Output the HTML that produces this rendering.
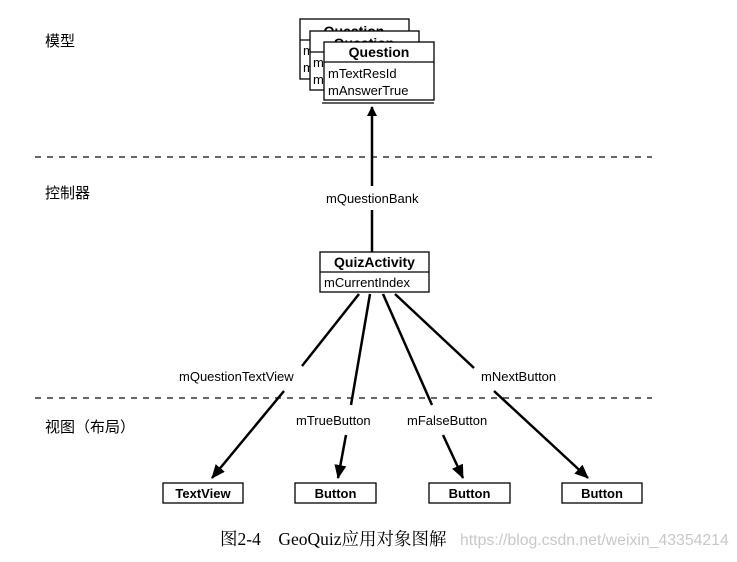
<!DOCTYPE html>
<html><head><meta charset="utf-8"><style>
body{margin:0;background:#fff;}
svg text{font-family:"Liberation Sans","Noto Sans CJK SC",sans-serif;}
</style></head><body>
<svg width="737" height="557" xmlns="http://www.w3.org/2000/svg">
<defs><marker id="a" markerWidth="10" markerHeight="10" refX="9" refY="5" orient="auto" markerUnits="userSpaceOnUse"><path d="M0,0 L10,5 L0,10 z" fill="#000"/></marker>
<marker id="b" markerWidth="14" markerHeight="14" refX="13" refY="7" orient="auto" markerUnits="userSpaceOnUse"><path d="M0,1 L14,7 L0,13 z" fill="#000"/></marker></defs>
<g font-size="15" fill="#000">
<text x="45" y="46">模型</text>
<text x="45" y="198">控制器</text>
<text x="45" y="432">视图（布局）</text>
</g>
<g stroke="#666" stroke-width="2" stroke-dasharray="6,6">
<line x1="35" y1="157" x2="652" y2="157"/>
<line x1="35" y1="398" x2="652" y2="398"/>
</g>
<g stroke="#000" stroke-width="1.3" fill="#fff">
<rect x="300" y="19" width="109" height="60"/>
<line x1="300" y1="40" x2="409" y2="40"/>
</g>
<text x="354" y="36" font-size="14" font-weight="bold" text-anchor="middle">Question</text>
<text x="303" y="55" font-size="13">m</text><text x="303" y="72" font-size="13">m</text>
<g stroke="#000" stroke-width="1.3" fill="#fff">
<rect x="310" y="31" width="109" height="59"/>
<line x1="310" y1="52" x2="419" y2="52"/>
</g>
<text x="364" y="48" font-size="14" font-weight="bold" text-anchor="middle">Question</text>
<text x="313" y="67" font-size="13">m</text><text x="313" y="84" font-size="13">m</text>
<g stroke="#000" stroke-width="1.3" fill="#fff">
<rect x="324" y="42" width="110" height="58"/>
<line x1="324" y1="62" x2="434" y2="62"/>
<line x1="322" y1="103" x2="434" y2="103"/>
</g>
<text x="379" y="57" font-size="14" font-weight="bold" text-anchor="middle">Question</text>
<text x="328" y="78" font-size="13">mTextResId</text>
<text x="328" y="95" font-size="13">mAnswerTrue</text>
<line x1="372" y1="186" x2="372" y2="107" stroke="#000" stroke-width="2.5" marker-end="url(#a)"/>
<line x1="372" y1="210" x2="372" y2="252" stroke="#000" stroke-width="2.5"/>
<text x="326" y="203" font-size="13">mQuestionBank</text>
<rect x="320" y="252" width="109" height="40" fill="#fff" stroke="#000" stroke-width="1.3"/>
<line x1="320" y1="272" x2="429" y2="272" stroke="#000" stroke-width="1.3"/>
<text x="374.5" y="267" font-size="14" font-weight="bold" text-anchor="middle">QuizActivity</text>
<text x="324" y="287" font-size="13">mCurrentIndex</text>
<g stroke="#000" stroke-width="2.5" fill="none">
<line x1="359" y1="294" x2="302" y2="366"/>
<line x1="284" y1="391" x2="212" y2="478" marker-end="url(#b)"/>
<line x1="370" y1="294" x2="351" y2="405"/>
<line x1="346" y1="435" x2="338" y2="478" marker-end="url(#b)"/>
<line x1="383" y1="294" x2="432" y2="405"/>
<line x1="443" y1="435" x2="463" y2="478" marker-end="url(#b)"/>
<line x1="395" y1="294" x2="474" y2="368"/>
<line x1="494" y1="391" x2="588" y2="478" marker-end="url(#b)"/>
</g>
<g font-size="13">
<text x="179" y="381">mQuestionTextView</text>
<text x="481" y="381">mNextButton</text>
<text x="296" y="425">mTrueButton</text>
<text x="407" y="425">mFalseButton</text>
</g>
<g stroke="#000" stroke-width="1.3" fill="#fff">
<rect x="163" y="483" width="80" height="20"/>
<rect x="295" y="483" width="81" height="20"/>
<rect x="429" y="483" width="81" height="20"/>
<rect x="562" y="483" width="80" height="20"/>
</g>
<g font-size="13" font-weight="bold" text-anchor="middle">
<text x="203" y="498">TextView</text>
<text x="335.5" y="498">Button</text>
<text x="469.5" y="498">Button</text>
<text x="602" y="498">Button</text>
</g>
<text x="220" y="545" font-size="17.5" style="font-family:'Liberation Serif','Noto Serif CJK SC',serif">图2-4　GeoQuiz应用对象图解</text>
<text x="460" y="545" font-size="15.8" fill="#c8c8c8">https://blog.csdn.net/weixin_43354214</text>
</svg>
</body></html>
